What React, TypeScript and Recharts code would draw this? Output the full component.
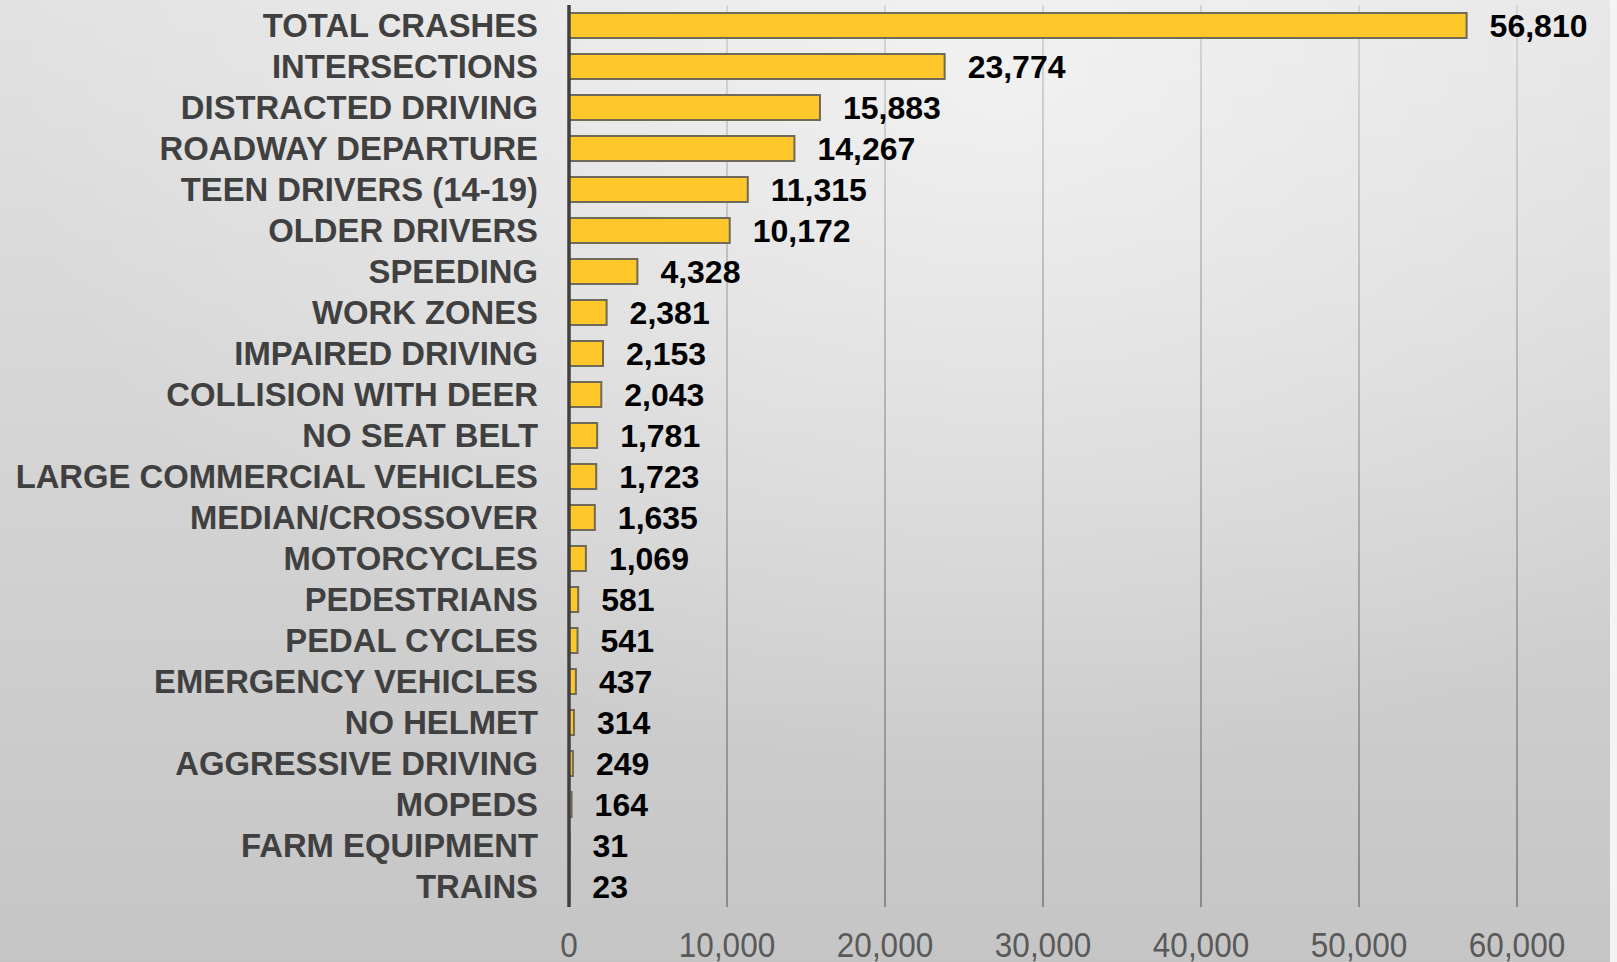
import React from "react";
import { BarChart, Bar, XAxis, YAxis, CartesianGrid, LabelList } from "recharts";

const categories = [
  "TOTAL CRASHES",
  "INTERSECTIONS",
  "DISTRACTED DRIVING",
  "ROADWAY DEPARTURE",
  "TEEN DRIVERS (14-19)",
  "OLDER DRIVERS",
  "SPEEDING",
  "WORK ZONES",
  "IMPAIRED DRIVING",
  "COLLISION WITH DEER",
  "NO SEAT BELT",
  "LARGE COMMERCIAL VEHICLES",
  "MEDIAN/CROSSOVER",
  "MOTORCYCLES",
  "PEDESTRIANS",
  "PEDAL CYCLES",
  "EMERGENCY VEHICLES",
  "NO HELMET",
  "AGGRESSIVE DRIVING",
  "MOPEDS",
  "FARM EQUIPMENT",
  "TRAINS",
];

const crashes = [
  56810, 23774, 15883, 14267, 11315, 10172, 4328, 2381, 2153, 2043, 1781,
  1723, 1635, 1069, 581, 541, 437, 314, 249, 164, 31, 23,
];

const xTicks = [0, 10000, 20000, 30000, 40000, 50000, 60000];

const data = categories.map((c, i) => ({ name: c, value: crashes[i] }));

const fmt = (v: number) => v.toLocaleString("en-US");

const XTick = (props: any) => {
  const { x, payload } = props;
  return (
    <text
      transform={`translate(${x},957) scale(0.9,1)`}
      textAnchor="middle"
      fontFamily="Liberation Sans, Arial, sans-serif"
      fontSize={35}
      fill="#595959"
    >
      {fmt(payload.value)}
    </text>
  );
};

const YTick = (props: any) => {
  const { y, payload } = props;
  return (
    <text
      x={538}
      y={y}
      dy={11}
      textAnchor="end"
      fontFamily="Liberation Sans, Arial, sans-serif"
      fontWeight="bold"
      fontSize={32.8}
      fill="#404040"
    >
      {payload.value}
    </text>
  );
};

const ValueLabel = (props: any) => {
  const { x, y, width, height, value } = props;
  return (
    <text
      x={x + width + 23}
      y={y + height / 2}
      dy={11}
      textAnchor="start"
      fontFamily="Liberation Sans, Arial, sans-serif"
      fontWeight="bold"
      fontSize={32}
      fill="#000000"
    >
      {fmt(value)}
    </text>
  );
};

export default function App() {
  return (
    <div
      style={{
        position: "absolute",
        left: 0,
        top: 0,
        width: 1617,
        height: 962,
        overflow: "hidden",
        background:
          "radial-gradient(ellipse 1000px 700px at 62% 8%, rgba(255,255,255,0.55), rgba(255,255,255,0) 100%), linear-gradient(to bottom, #e2e2e2, #c5c5c5)",
      }}
    >
      <div
        style={{
          position: "absolute",
          right: 0,
          top: 0,
          width: 7,
          height: 962,
          background: "#f4f4f4",
        }}
      />
      <BarChart
        width={1617}
        height={962}
        data={data}
        layout="vertical"
        margin={{ top: 5, right: 100, bottom: 0, left: 0 }}
        barSize={25}
      >
        <defs>
          <linearGradient id="gridGrad" gradientUnits="userSpaceOnUse" x1="0" y1="0" x2="0" y2="907">
            <stop offset="0%" stopColor="#d6d6d6" />
            <stop offset="100%" stopColor="#8a8a8a" />
          </linearGradient>
        </defs>
        <CartesianGrid
          horizontal={false}
          vertical={true}
          stroke="url(#gridGrad)"
          strokeWidth={2}
        />
        <XAxis
          type="number"
          domain={[0, 60000]}
          ticks={xTicks}
          axisLine={false}
          tickLine={false}
          height={55}
          tick={<XTick />}
          interval={0}
        />
        <YAxis
          type="category"
          dataKey="name"
          width={569}
          axisLine={{ stroke: "#404040", strokeWidth: 3.5 }}
          tickLine={false}
          tick={<YTick />}
          interval={0}
        />
        <Bar
          dataKey="value"
          fill="#FFC72A"
          stroke="#6f6a5a"
          strokeWidth={2}
          isAnimationActive={false}
        >
          <LabelList dataKey="value" content={<ValueLabel />} />
        </Bar>
      </BarChart>
    </div>
  );
}
